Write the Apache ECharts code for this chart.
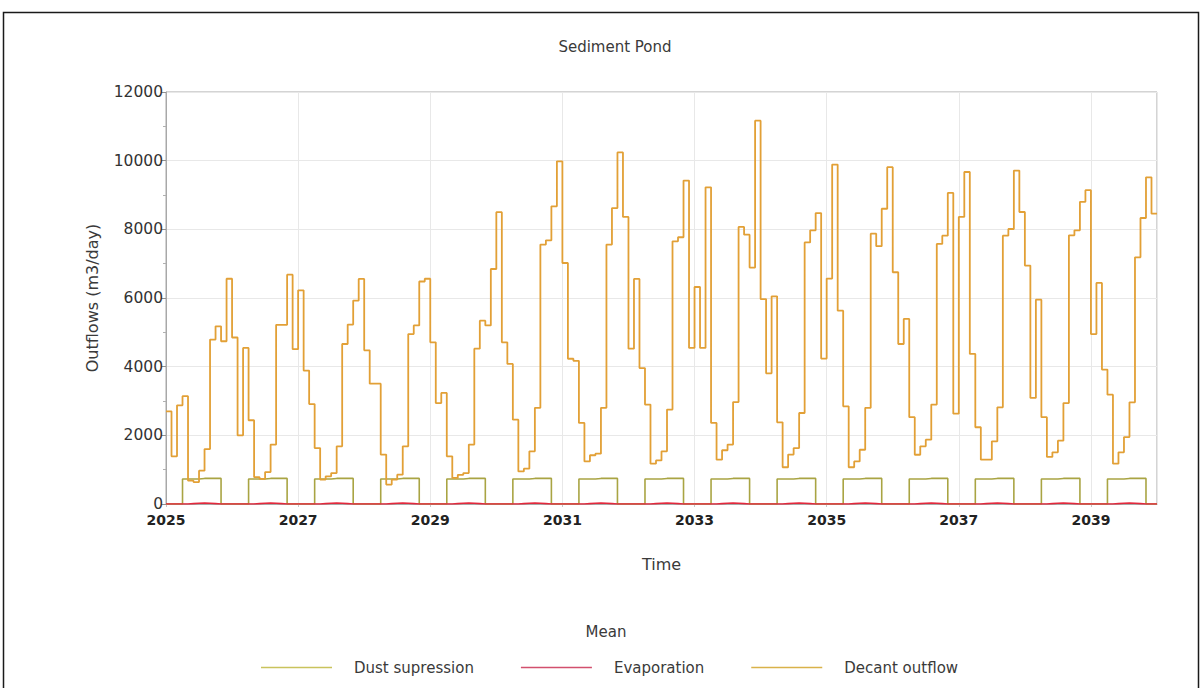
<!DOCTYPE html>
<html>
<head>
<meta charset="utf-8">
<script src="https://cdn.jsdelivr.net/npm/echarts@6/dist/echarts.min.js"></script>
<style>
  html, body { margin: 0; padding: 0; background: #fff; }
  #chart { width: 1203px; height: 688px; }
</style>
</head>
<body>
<div id="chart"></div>
<script>
// Monthly mean outflows from the sediment pond, Jan 2025 – Dec 2039 (m3/day)
const startYear = 2025;
const yearTicks = ['2025', '2027', '2029', '2031', '2033', '2035', '2037', '2039'];
const seriesNames = ['Dust supression', 'Evaporation', 'Decant outflow'];

const dustSupression = [
  0, 0, 0, 730, 730, 730, 745, 745, 745, 745, 0, 0,
  0, 0, 0, 730, 730, 730, 745, 745, 745, 745, 0, 0,
  0, 0, 0, 730, 730, 730, 745, 745, 745, 745, 0, 0,
  0, 0, 0, 730, 730, 730, 745, 745, 745, 745, 0, 0,
  0, 0, 0, 730, 730, 730, 745, 745, 745, 745, 0, 0,
  0, 0, 0, 730, 730, 730, 745, 745, 745, 745, 0, 0,
  0, 0, 0, 730, 730, 730, 745, 745, 745, 745, 0, 0,
  0, 0, 0, 730, 730, 730, 745, 745, 745, 745, 0, 0,
  0, 0, 0, 730, 730, 730, 745, 745, 745, 745, 0, 0,
  0, 0, 0, 730, 730, 730, 745, 745, 745, 745, 0, 0,
  0, 0, 0, 730, 730, 730, 745, 745, 745, 745, 0, 0,
  0, 0, 0, 730, 730, 730, 745, 745, 745, 745, 0, 0,
  0, 0, 0, 730, 730, 730, 745, 745, 745, 745, 0, 0,
  0, 0, 0, 730, 730, 730, 745, 745, 745, 745, 0, 0,
  0, 0, 0, 730, 730, 730, 745, 745, 745, 745, 0, 0
];

const evaporation = [
  0, 0, 0, 0, 10, 20, 30, 20, 10, 0, 0, 0,
  0, 0, 0, 0, 10, 20, 30, 20, 10, 0, 0, 0,
  0, 0, 0, 0, 10, 20, 30, 20, 10, 0, 0, 0,
  0, 0, 0, 0, 10, 20, 30, 20, 10, 0, 0, 0,
  0, 0, 0, 0, 10, 20, 30, 20, 10, 0, 0, 0,
  0, 0, 0, 0, 10, 20, 30, 20, 10, 0, 0, 0,
  0, 0, 0, 0, 10, 20, 30, 20, 10, 0, 0, 0,
  0, 0, 0, 0, 10, 20, 30, 20, 10, 0, 0, 0,
  0, 0, 0, 0, 10, 20, 30, 20, 10, 0, 0, 0,
  0, 0, 0, 0, 10, 20, 30, 20, 10, 0, 0, 0,
  0, 0, 0, 0, 10, 20, 30, 20, 10, 0, 0, 0,
  0, 0, 0, 0, 10, 20, 30, 20, 10, 0, 0, 0,
  0, 0, 0, 0, 10, 20, 30, 20, 10, 0, 0, 0,
  0, 0, 0, 0, 10, 20, 30, 20, 10, 0, 0, 0,
  0, 0, 0, 0, 10, 20, 30, 20, 10, 0, 0, 0
];

const decantOutflow = [
  2700, 1390, 2875, 3140, 680, 640, 970, 1600, 4790, 5175, 4740, 6560,   // 2025
  4850, 2000, 4545, 2440, 780, 730, 930, 1730, 5220, 5220, 6680, 4510,   // 2026
  6225, 3885, 2910, 1630, 710, 805, 900, 1680, 4660, 5225, 5925, 6555,   // 2027
  4475, 3505, 3505, 1440, 565, 710, 855, 1680, 4950, 5200, 6480, 6560,   // 2028
  4710, 2940, 3235, 1390, 760, 850, 900, 1730, 4525, 5340, 5200, 6845,   // 2029
  8500, 4710, 4080, 2455, 950, 1030, 1535, 2800, 7555, 7680, 8670, 9980, // 2030
  7020, 4230, 4170, 2360, 1240, 1420, 1465, 2800, 7555, 8620, 10240, 8360, // 2031
  4525, 6555, 3960, 2895, 1175, 1270, 1535, 2750, 7650, 7770, 9420, 4545, // 2032
  6320, 4545, 9225, 2360, 1290, 1565, 1730, 2970, 8070, 7845, 6885, 11165, // 2033
  5970, 3805, 6050, 2380, 1070, 1440, 1630, 2650, 7620, 7970, 8475, 4235, // 2034
  6565, 9885, 5630, 2845, 1070, 1240, 1580, 2800, 7875, 7510, 8600, 9810, // 2035
  6750, 4660, 5390, 2530, 1435, 1680, 1875, 2895, 7575, 7815, 9060, 2630, // 2036
  8360, 9670, 4370, 2235, 1290, 1290, 1825, 2815, 7815, 8010, 9710, 8505, // 2037
  6945, 3090, 5950, 2530, 1370, 1505, 1845, 2940, 7825, 7970, 8800, 9140, // 2038
  4950, 6440, 3915, 3185, 1175, 1505, 1950, 2960, 7185, 8330, 9515, 8455  // 2039
];

// Each monthly value holds until the next month; the last one runs to the axis end.
function toSteps(values) {
  const pts = values.map((v, i) => [i, v]);
  pts.push([values.length, values[values.length - 1]]);
  return pts;
}

const FONT = 'DejaVu Sans';
const chart = echarts.init(document.getElementById('chart'), null, { renderer: 'svg' });

chart.setOption({
  backgroundColor: '#ffffff',
  animation: false,
  textStyle: { fontFamily: FONT },
  title: {
    text: 'Sediment Pond',
    left: 610,
    top: 34,
    textAlign: 'center',
    textStyle: { fontFamily: FONT, fontSize: 15, fontWeight: 'normal', color: '#3a3a3a' }
  },
  graphic: [
    {
      type: 'rect',
      silent: true,
      shape: { x: 3.5, y: 12.5, width: 1195, height: 700 },
      style: { fill: 'none', stroke: '#1a1a1a', lineWidth: 1.5 }
    },
    {
      type: 'text',
      silent: true,
      x: 606,
      y: 632,
      style: {
        text: 'Mean',
        fontFamily: FONT,
        fontSize: 15,
        fill: '#3a3a3a',
        textAlign: 'center',
        textVerticalAlign: 'middle'
      }
    }
  ],
  legend: {
    left: 256,
    top: 655,
    icon: 'rect',
    itemWidth: 71,
    itemHeight: 1.5,
    itemGap: 47,
    textStyle: { fontFamily: FONT, fontSize: 15, color: '#3a3a3a', padding: [0, 0, 0, 17] },
    data: [
      { name: seriesNames[0], itemStyle: { color: '#c9c35d' } },
      { name: seriesNames[1], itemStyle: { color: '#d2506e' } },
      { name: seriesNames[2], itemStyle: { color: '#d9b24a' } }
    ]
  },
  grid: {
    left: 166,
    right: 46,
    top: 92,
    bottom: 184,
    show: true,
    borderColor: '#a8a8a8',
    borderWidth: 1,
    containLabel: false
  },
  xAxis: {
    type: 'value',
    min: 0,
    max: 180,
    interval: 24,
    name: 'Time',
    nameLocation: 'middle',
    nameGap: 52,
    nameTextStyle: { fontFamily: FONT, fontSize: 16, color: '#3a3a3a' },
    axisLine: { show: true, lineStyle: { color: '#a8a8a8' } },
    axisTick: { show: true, length: 3, lineStyle: { color: '#c8c8c8' } },
    axisLabel: {
      margin: 9,
      showMaxLabel: false,
      fontFamily: FONT,
      fontSize: 14,
      fontWeight: 'bold',
      color: '#222',
      formatter: v => yearTicks[v / 24] || ''
    },
    splitLine: { show: true, lineStyle: { color: '#e8e8e8', width: 1 } }
  },
  yAxis: {
    type: 'value',
    min: 0,
    max: 12000,
    interval: 2000,
    name: 'Outflows (m3/day)',
    nameLocation: 'middle',
    nameGap: 66,
    nameRotate: 90,
    nameTextStyle: { fontFamily: FONT, fontSize: 16, color: '#3a3a3a' },
    axisLine: { show: true, lineStyle: { color: '#a8a8a8' } },
    axisTick: { show: true, length: 5, lineStyle: { color: '#909090' } },
    minorTick: { show: true, splitNumber: 2, length: 3, lineStyle: { color: '#b0b0b0' } },
    axisLabel: {
      margin: 3,
      fontFamily: FONT,
      fontSize: 15.5,
      color: '#333',
      formatter: v => String(v)
    },
    splitLine: { show: true, lineStyle: { color: '#e8e8e8', width: 1 } }
  },
  series: [
    {
      name: seriesNames[0],
      type: 'line',
      step: 'end',
      showSymbol: false,
      color: '#c9c35d',
      lineStyle: { color: '#a9a443', width: 1.6 },
      data: toSteps(dustSupression),
      z: 2
    },
    {
      name: seriesNames[1],
      type: 'line',
      step: 'end',
      showSymbol: false,
      color: '#d2506e',
      lineStyle: { color: '#e3283c', width: 1.6 },
      data: toSteps(evaporation),
      z: 3
    },
    {
      name: seriesNames[2],
      type: 'line',
      step: 'end',
      showSymbol: false,
      color: '#d9b24a',
      lineStyle: { color: '#e2a036', width: 1.8 },
      data: toSteps(decantOutflow),
      z: 4
    }
  ]
});
</script>
</body>
</html>
